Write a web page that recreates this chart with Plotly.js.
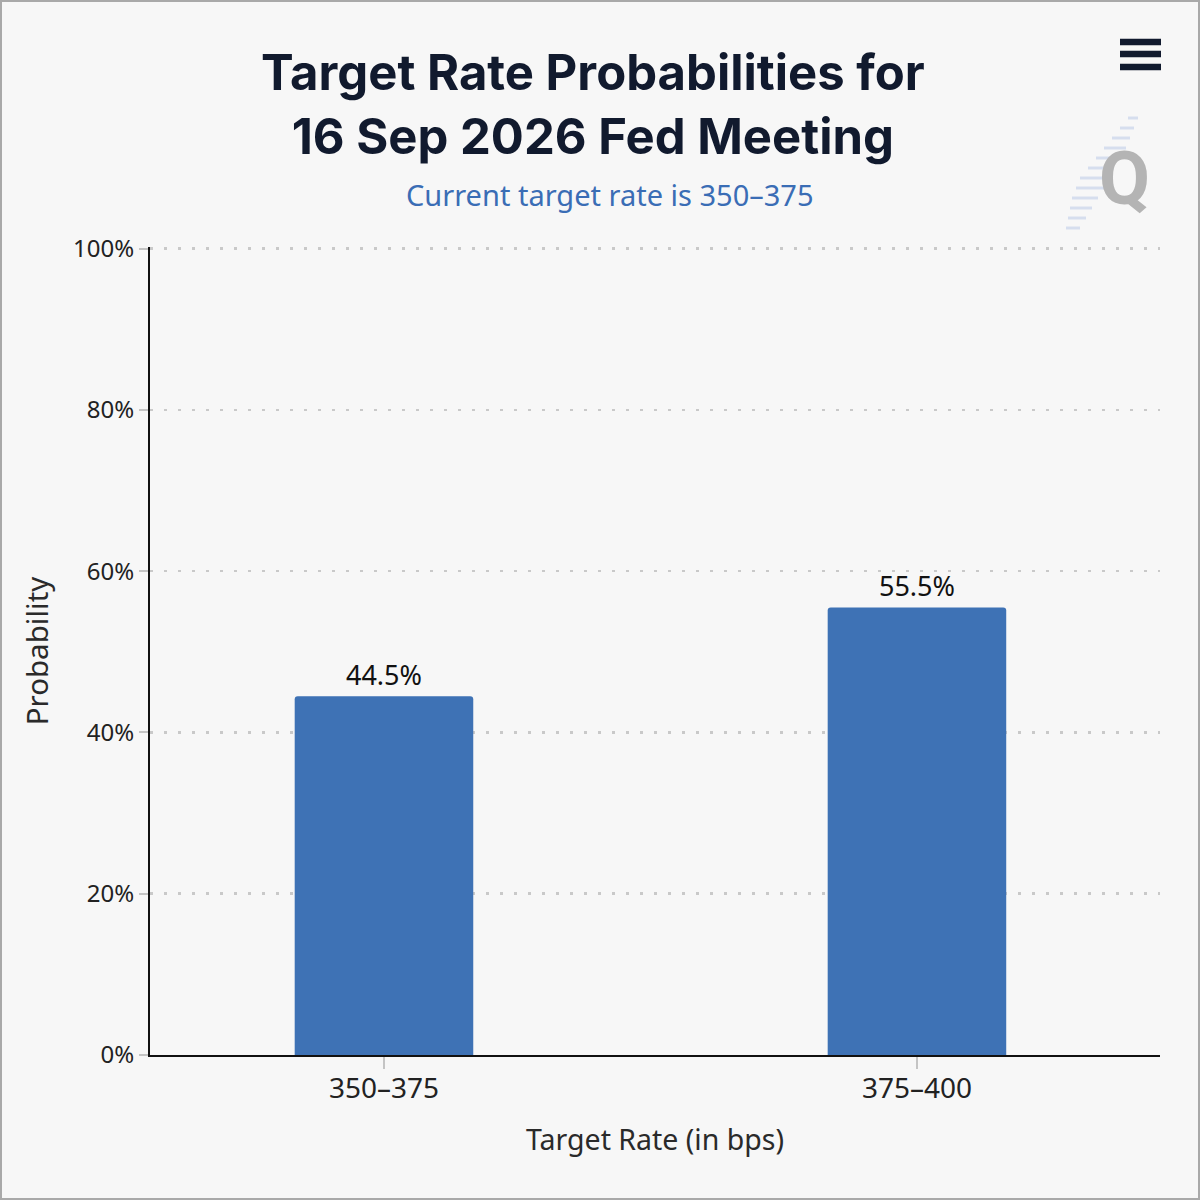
<!DOCTYPE html>
<html>
<head>
<meta charset="utf-8">
<script src="https://cdn.plot.ly/plotly-3.0.1.min.js"></script>
<style>
  html, body { margin: 0; padding: 0; background: #f7f7f7; }
  #wrap { position: relative; width: 1200px; height: 1200px; }
  #frame { position: absolute; left: 0; top: 0; width: 1200px; height: 1200px; box-sizing: border-box; border: 2px solid #a9a9a9; pointer-events: none; }
</style>
</head>
<body>
<div id="wrap">
  <div id="chart" style="width:1200px;height:1200px;"></div>
  <div id="frame"></div>
</div>
<script>
// ---- data ----
const categories = ["350\u2013375", "375\u2013400"];
const probabilities = [44.5, 55.5];
const valueLabels = ["44.5%", "55.5%"];
const yTickValues = [0, 20, 40, 60, 80, 100];
const yTickLabels = ["0%", "20%", "40%", "60%", "80%", "100%"];
const titleText = "Target Rate Probabilities for<br>16 Sep 2026 Fed Meeting";
const subtitleText = "Current target rate is 350\u2013375";
const xTitle = "Target Rate (in bps)";
const yTitle = "Probability";

// ---- geometry helpers for decorations (plot area: x 150..1160, y 247..1055) ----
const L = 150, R = 1160, T = 247, B = 1055;
const px = x => (x - L) / (R - L);
const py = y => (B - y) / (B - T);

const shapes = [];
// hamburger menu icon
[42, 54, 67].forEach(yc => {
  shapes.push({
    type: "rect", xref: "paper", yref: "paper",
    x0: px(1120), x1: px(1161), y0: py(yc + 3.2), y1: py(yc - 3.2),
    fillcolor: "#111a2e", line: { width: 0 }
  });
});
// faint hatch behind logo
const hatch = [[1128,118,1138],[1120,128,1134],[1112,138,1130],[1104,148,1126],[1096,158,1120],[1088,168,1114],[1080,178,1108],[1076,188,1104],[1072,198,1098],[1070,208,1092],[1068,218,1086],[1066,228,1080]];
hatch.forEach(h => {
  shapes.push({
    type: "line", xref: "paper", yref: "paper",
    x0: px(h[0]), x1: px(h[2]), y0: py(h[1]), y1: py(h[1]),
    line: { color: "rgba(140,165,220,0.3)", width: 3 }
  });
});

const trace = {
  type: "bar",
  x: categories,
  y: probabilities,
  text: valueLabels,
  textposition: "outside",
  textfont: { family: "Noto Sans, sans-serif", size: 27, color: "#111111" },
  cliponaxis: false,
  width: 0.335,
  marker: { color: "#3e72b5", cornerradius: 3, line: { width: 0 } },
  hoverinfo: "skip"
};

const layout = {
  width: 1200,
  height: 1200,
  paper_bgcolor: "#f7f7f7",
  plot_bgcolor: "#f7f7f7",
  margin: { l: 150, r: 40, t: 247, b: 145 },
  showlegend: false,
  title: {
    text: titleText,
    font: { family: "Inter, Roboto, sans-serif", size: 49, color: "#111a2e", weight: 700 },
    x: 0.494, xanchor: "center",
    y: 1 - 90 / 1200, yanchor: "middle", yref: "container"
  },
  font: { family: "Noto Sans, sans-serif", color: "#222222" },
  xaxis: {
    type: "category",
    range: [-0.439, 1.456],
    showline: true, linecolor: "#111111", linewidth: 2,
    ticks: "outside", ticklen: 12, tickwidth: 2, tickcolor: "#c4c4c4",
    ticklabelstandoff: -5,
    tickfont: { family: "Noto Sans, sans-serif", size: 28, color: "#222222" },
    showgrid: false,
    zeroline: false,
    title: { text: xTitle, font: { family: "Noto Sans, sans-serif", size: 28.5, color: "#2a2a2a" }, standoff: 25 }
  },
  yaxis: {
    range: [0, 100.2],
    tickvals: yTickValues,
    ticktext: yTickLabels,
    showline: true, linecolor: "#111111", linewidth: 2,
    ticks: "outside", ticklen: 9, tickwidth: 2, tickcolor: "#c4c4c4",
    tickfont: { family: "Noto Sans, sans-serif", size: 24, color: "#222222" },
    showgrid: true, gridcolor: "#c9c9c9", gridwidth: 2.5, griddash: "3px,11px",
    zeroline: false,
    title: { text: yTitle, font: { family: "Noto Sans, sans-serif", size: 29.5, color: "#2a2a2a" }, standoff: 16 }
  },
  annotations: [
    {
      text: subtitleText, xref: "paper", yref: "paper",
      x: px(610), y: py(195), xanchor: "center", yanchor: "middle",
      showarrow: false,
      font: { family: "Noto Sans, sans-serif", size: 29, color: "#3a6db5" }
    },
    {
      text: "<b>Q</b>", xref: "paper", yref: "paper",
      x: px(1124), y: py(178), xanchor: "center", yanchor: "middle",
      showarrow: false,
      font: { family: "Roboto, sans-serif", size: 74, color: "#b4b4b4" }
    }
  ],
  shapes: shapes
};

Plotly.newPlot("chart", [trace], layout, { displayModeBar: false, staticPlot: true });
</script>
</body>
</html>
